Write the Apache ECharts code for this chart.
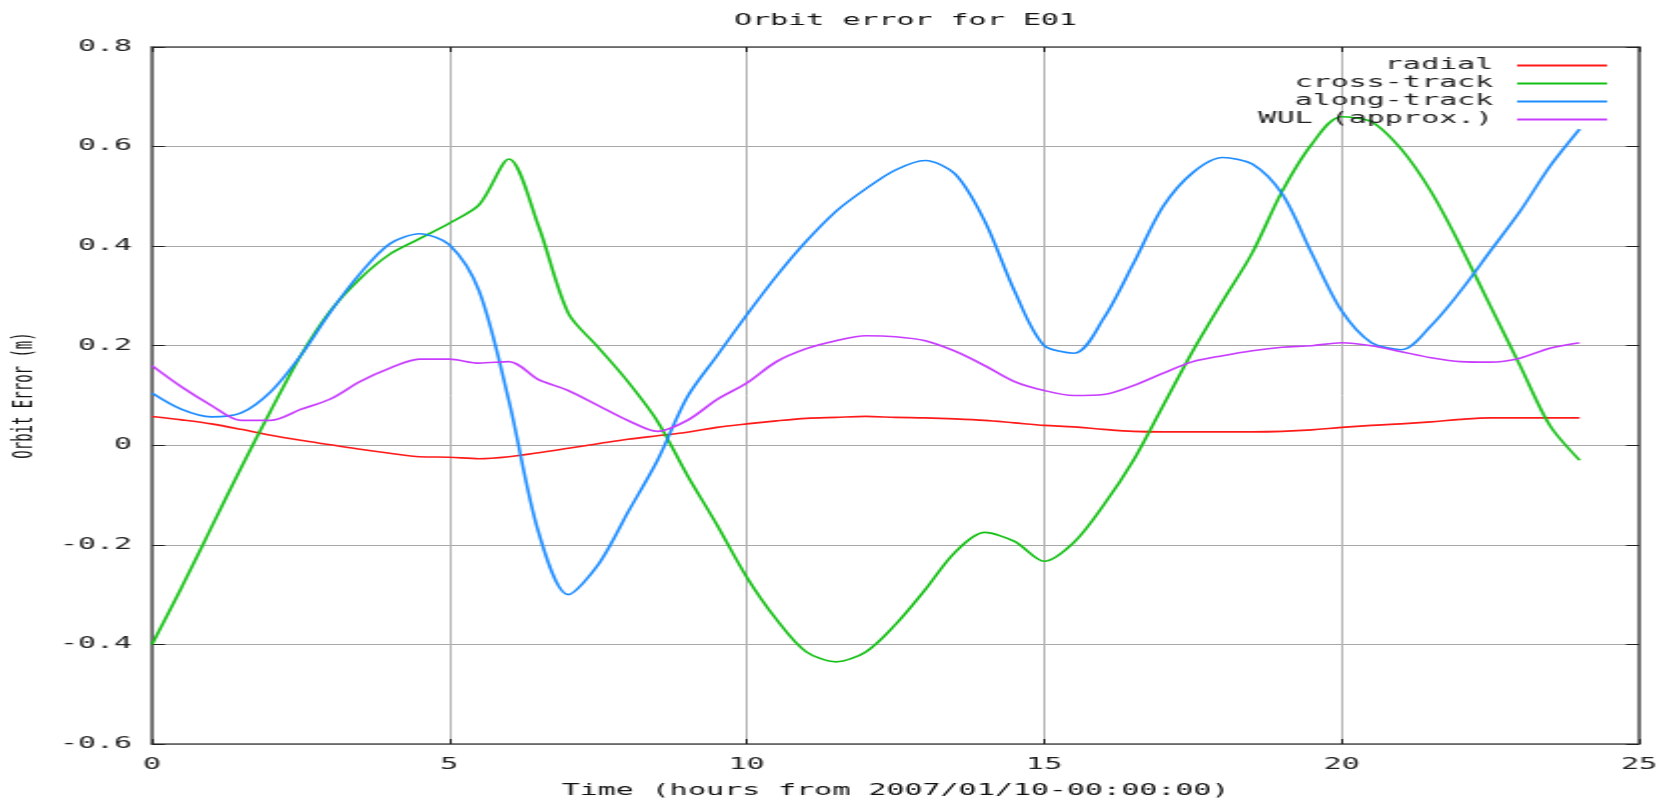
<!DOCTYPE html>
<html>
<head>
<meta charset="utf-8">
<script src="https://cdn.jsdelivr.net/npm/echarts@6/dist/echarts.min.js"></script>
<style>
  html, body { margin: 0; padding: 0; background: #fff; overflow: hidden; }
  #chart { width: 837px; height: 801px; transform: scaleX(1.9988); transform-origin: 0 0; }
</style>
</head>
<body>
<div id="chart"></div>
<script>
// Time (hours from 2007/01/10-00:00:00)
const hours = [0,0.5,1,1.5,2,2.5,3,3.5,4,4.5,5,5.5,6,6.5,7,7.5,8,8.5,9,9.5,10,10.5,11,11.5,12,12.5,13,13.5,14,14.5,15,15.5,16,16.5,17,17.5,18,18.5,19,19.5,20,20.5,21,21.5,22,22.5,23,23.5,24];

const radial = [0.058,0.051,0.043,0.032,0.020,0.010,0.001,-0.008,-0.016,-0.023,-0.024,-0.027,-0.023,-0.015,-0.006,0.003,0.012,0.019,0.026,0.036,0.043,0.049,0.054,0.056,0.058,0.056,0.055,0.053,0.050,0.045,0.040,0.037,0.032,0.028,0.027,0.027,0.027,0.027,0.028,0.031,0.036,0.040,0.043,0.047,0.052,0.055,0.055,0.055,0.055];

const crossTrack = [-0.400,-0.285,-0.165,-0.045,0.070,0.180,0.270,0.335,0.384,0.415,0.446,0.483,0.575,0.440,0.265,0.197,0.128,0.048,-0.060,-0.160,-0.265,-0.350,-0.415,-0.435,-0.415,-0.360,-0.290,-0.215,-0.175,-0.193,-0.233,-0.195,-0.120,-0.030,0.080,0.190,0.290,0.387,0.510,0.605,0.660,0.650,0.595,0.510,0.400,0.280,0.160,0.040,-0.030];

const alongTrack = [0.105,0.072,0.057,0.065,0.108,0.180,0.268,0.345,0.405,0.425,0.403,0.310,0.090,-0.175,-0.300,-0.240,-0.135,-0.030,0.097,0.180,0.262,0.340,0.410,0.470,0.515,0.553,0.572,0.545,0.450,0.310,0.200,0.185,0.255,0.365,0.480,0.548,0.578,0.565,0.505,0.385,0.270,0.206,0.192,0.240,0.310,0.390,0.470,0.560,0.635];

const wul = [0.160,0.117,0.080,0.050,0.050,0.072,0.093,0.128,0.155,0.173,0.173,0.165,0.168,0.132,0.110,0.080,0.050,0.028,0.050,0.092,0.125,0.168,0.194,0.210,0.220,0.218,0.210,0.189,0.160,0.128,0.110,0.100,0.102,0.120,0.145,0.168,0.180,0.190,0.197,0.200,0.206,0.200,0.188,0.176,0.168,0.167,0.175,0.195,0.206];

const seriesNames = ['radial', 'cross-track', 'along-track', 'WUL (approx.)'];
const seriesColors = ['#ff1a1a', '#14c014', '#1c8cff', '#c83cff'];
const seriesValues = [radial, crossTrack, alongTrack, wul];

const FONT = 'DejaVu Sans Mono';

const chart = echarts.init(document.getElementById('chart'), null, { renderer: 'canvas' });

const xCommon = { type: 'value', min: 0, max: 25, interval: 5 };
const yCommon = { type: 'value', min: -0.6, max: 0.8, interval: 0.2 };
const frameLine = { show: true, onZero: false, lineStyle: { color: '#555', width: 1.5 } };

chart.setOption({
  animation: false,
  backgroundColor: '#ffffff',
  title: {
    text: 'Orbit error for E01',
    left: 448,
    textAlign: 'center',
    top: 9,
    textStyle: { fontFamily: FONT, fontSize: 15, fontWeight: 'normal', color: '#111' }
  },
  legend: {
    orient: 'vertical',
    right: 28,
    top: 53,
    align: 'right',
    icon: 'rect',
    itemWidth: 45,
    itemHeight: 2,
    itemGap: 3,
    textStyle: { fontFamily: FONT, fontSize: 15, color: '#222', padding: [0, 7, 0, 0] },
    data: seriesNames
  },
  grid: { left: 76, right: 17, top: 47, bottom: 57, containLabel: false, outerBoundsMode: 'none' },
  xAxis: [
    Object.assign({}, xCommon, {
      position: 'bottom',
      name: 'Time (hours from 2007/01/10-00:00:00)',
      nameLocation: 'middle',
      nameGap: 40,
      nameTextStyle: { fontFamily: FONT, fontSize: 15, color: '#111' },
      axisLine: frameLine,
      axisTick: { show: true, inside: true, length: 5, lineStyle: { color: '#222', width: 1 } },
      axisLabel: { fontFamily: FONT, fontSize: 15, color: '#222', margin: 14 },
      splitLine: { show: true, lineStyle: { color: '#b4b4b4', width: 1 } }
    }),
    Object.assign({}, xCommon, {
      position: 'top',
      axisLine: frameLine,
      axisTick: { show: true, inside: true, length: 5, lineStyle: { color: '#222', width: 1 } },
      axisLabel: { show: false },
      splitLine: { show: false }
    })
  ],
  yAxis: [
    Object.assign({}, yCommon, {
      position: 'left',
      name: 'Orbit Error (m)',
      nameLocation: 'middle',
      nameGap: 55,
      nameTextStyle: { fontFamily: FONT, fontSize: 14, color: '#111' },
      axisLine: frameLine,
      axisTick: { show: true, inside: true, length: 6.5, lineStyle: { color: '#222', width: 1 } },
      axisLabel: { fontFamily: FONT, fontSize: 15, color: '#222', margin: 10 },
      splitLine: { show: true, lineStyle: { color: '#a8a8a8', width: 1 } }
    }),
    Object.assign({}, yCommon, {
      position: 'right',
      axisLine: frameLine,
      axisTick: { show: true, inside: true, length: 6.5, lineStyle: { color: '#222', width: 1 } },
      axisLabel: { show: false },
      splitLine: { show: false }
    })
  ],
  series: seriesNames.map((name, i) => ({
    name: name,
    type: 'line',
    xAxisIndex: 0,
    yAxisIndex: 0,
    data: hours.map((h, j) => [h, seriesValues[i][j]]),
    showSymbol: false,
    smooth: 0.3,
    color: seriesColors[i],
    lineStyle: { color: seriesColors[i], width: 1.6 },
    z: 2 + i
  }))
});
</script>
</body>
</html>
